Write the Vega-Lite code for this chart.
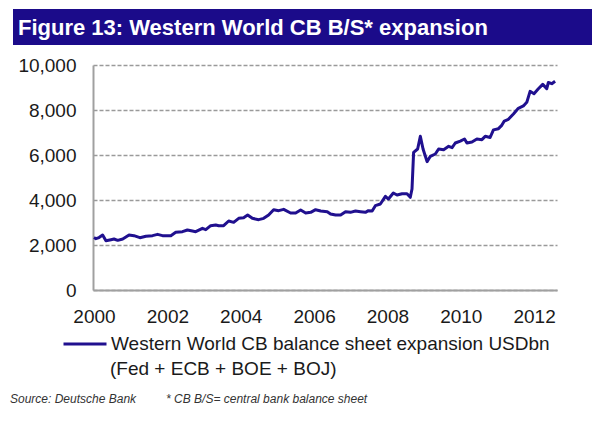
{
  "$schema": "https://vega.github.io/schema/vega-lite/v6.json",
  "autosize": {"type": "pad"},
  "padding": {"left": 9, "top": 9, "right": 12, "bottom": 10},
  "background": "white",
  "config": {
    "font": "Liberation Sans",
    "view": {"stroke": null},
    "axis": {
      "labelFont": "Liberation Sans",
      "labelFontSize": 19,
      "labelColor": "#1a1a1a",
      "domainColor": "#a0a0a0",
      "domainWidth": 2,
      "ticks": false,
      "title": null
    }
  },
  "title": {
    "text": "Source: Deutsche Bank\u00a0\u00a0\u00a0\u00a0\u00a0\u00a0\u00a0\u00a0\u00a0* CB B/S= central bank balance sheet",
    "orient": "bottom",
    "anchor": "start",
    "dx": 1,
    "offset": 15,
    "font": "Liberation Sans",
    "fontSize": 12,
    "fontStyle": "italic",
    "fontWeight": "normal",
    "color": "#333333"
  },
  "spacing": 11,
  "resolve": {"scale": {"color": "independent"}, "legend": {"color": "independent"}},
  "vconcat": [
    {
      "width": 579,
      "height": 36,
      "view": {"fill": "#1b0b8a", "stroke": null},
      "data": {"values": []},
      "mark": "point",
      "title": {
        "text": "Figure 13: Western World CB B/S* expansion",
        "orient": "bottom",
        "anchor": "start",
        "frame": "group",
        "baseline": "alphabetic",
        "offset": -10,
        "dx": 5,
        "font": "Liberation Sans",
        "fontSize": 22,
        "fontWeight": "bold",
        "color": "white"
      }
    },
    {
      "spacing": -24,
      "resolve": {"scale": {"color": "independent"}, "legend": {"color": "independent"}},
      "hconcat": [
        {
          "width": 0,
          "height": 225,
          "data": {"values": []},
          "mark": "point"
        },
        {
          "width": 464,
          "height": 225,
          "title": {
            "text": "(Fed + ECB + BOE + BOJ)",
            "orient": "bottom",
            "anchor": "start",
            "frame": "group",
            "baseline": "alphabetic",
            "dx": 17,
            "offset": 21,
            "font": "Liberation Sans",
            "fontSize": 19,
            "fontWeight": "normal",
            "color": "#1a1a1a"
          },
          "data": {
            "values": [
              {"date": "2000-01-01", "usd_bn": 2330},
              {"date": "2000-01-20", "usd_bn": 2280},
              {"date": "2000-02-20", "usd_bn": 2330},
              {"date": "2000-03-27", "usd_bn": 2444},
              {"date": "2000-04-29", "usd_bn": 2191},
              {"date": "2000-06-18", "usd_bn": 2237},
              {"date": "2000-07-18", "usd_bn": 2267},
              {"date": "2000-08-24", "usd_bn": 2207},
              {"date": "2000-10-13", "usd_bn": 2267},
              {"date": "2000-12-15", "usd_bn": 2444},
              {"date": "2001-02-02", "usd_bn": 2415},
              {"date": "2001-04-02", "usd_bn": 2326},
              {"date": "2001-06-01", "usd_bn": 2385},
              {"date": "2001-08-06", "usd_bn": 2415},
              {"date": "2001-09-25", "usd_bn": 2474},
              {"date": "2001-11-13", "usd_bn": 2415},
              {"date": "2002-02-04", "usd_bn": 2415},
              {"date": "2002-03-25", "usd_bn": 2563},
              {"date": "2002-05-31", "usd_bn": 2593},
              {"date": "2002-07-19", "usd_bn": 2667},
              {"date": "2002-09-07", "usd_bn": 2622},
              {"date": "2002-10-10", "usd_bn": 2593},
              {"date": "2002-12-16", "usd_bn": 2741},
              {"date": "2003-01-18", "usd_bn": 2681},
              {"date": "2003-03-08", "usd_bn": 2859},
              {"date": "2003-04-27", "usd_bn": 2889},
              {"date": "2003-05-27", "usd_bn": 2859},
              {"date": "2003-07-15", "usd_bn": 2859},
              {"date": "2003-09-03", "usd_bn": 3067},
              {"date": "2003-10-23", "usd_bn": 3007},
              {"date": "2003-12-12", "usd_bn": 3185},
              {"date": "2004-01-30", "usd_bn": 3215},
              {"date": "2004-03-10", "usd_bn": 3333},
              {"date": "2004-04-26", "usd_bn": 3185},
              {"date": "2004-06-28", "usd_bn": 3126},
              {"date": "2004-08-17", "usd_bn": 3185},
              {"date": "2004-10-05", "usd_bn": 3333},
              {"date": "2004-11-24", "usd_bn": 3570},
              {"date": "2005-01-13", "usd_bn": 3526},
              {"date": "2005-03-04", "usd_bn": 3585},
              {"date": "2005-05-12", "usd_bn": 3422},
              {"date": "2005-07-01", "usd_bn": 3422},
              {"date": "2005-08-20", "usd_bn": 3555},
              {"date": "2005-10-09", "usd_bn": 3422},
              {"date": "2005-11-28", "usd_bn": 3452},
              {"date": "2006-01-16", "usd_bn": 3570},
              {"date": "2006-03-07", "usd_bn": 3511},
              {"date": "2006-05-12", "usd_bn": 3481},
              {"date": "2006-06-14", "usd_bn": 3380},
              {"date": "2006-08-03", "usd_bn": 3330},
              {"date": "2006-09-22", "usd_bn": 3333},
              {"date": "2006-11-10", "usd_bn": 3481},
              {"date": "2006-12-29", "usd_bn": 3452},
              {"date": "2007-02-17", "usd_bn": 3511},
              {"date": "2007-04-08", "usd_bn": 3481},
              {"date": "2007-05-27", "usd_bn": 3452},
              {"date": "2007-06-26", "usd_bn": 3526},
              {"date": "2007-08-02", "usd_bn": 3511},
              {"date": "2007-09-03", "usd_bn": 3748},
              {"date": "2007-10-23", "usd_bn": 3822},
              {"date": "2007-12-12", "usd_bn": 4163},
              {"date": "2008-01-11", "usd_bn": 4044},
              {"date": "2008-02-29", "usd_bn": 4311},
              {"date": "2008-04-06", "usd_bn": 4222},
              {"date": "2008-05-26", "usd_bn": 4281},
              {"date": "2008-07-14", "usd_bn": 4281},
              {"date": "2008-08-16", "usd_bn": 4119},
              {"date": "2008-09-02", "usd_bn": 4489},
              {"date": "2008-09-18", "usd_bn": 6119},
              {"date": "2008-10-28", "usd_bn": 6267},
              {"date": "2008-11-24", "usd_bn": 6830},
              {"date": "2008-12-21", "usd_bn": 6267},
              {"date": "2009-01-30", "usd_bn": 5704},
              {"date": "2009-03-04", "usd_bn": 5941},
              {"date": "2009-04-22", "usd_bn": 6044},
              {"date": "2009-05-25", "usd_bn": 6267},
              {"date": "2009-07-14", "usd_bn": 6237},
              {"date": "2009-09-02", "usd_bn": 6385},
              {"date": "2009-10-06", "usd_bn": 6326},
              {"date": "2009-11-07", "usd_bn": 6533},
              {"date": "2009-12-27", "usd_bn": 6620},
              {"date": "2010-02-07", "usd_bn": 6711},
              {"date": "2010-03-03", "usd_bn": 6533},
              {"date": "2010-04-22", "usd_bn": 6578},
              {"date": "2010-06-10", "usd_bn": 6711},
              {"date": "2010-07-30", "usd_bn": 6681},
              {"date": "2010-09-01", "usd_bn": 6830},
              {"date": "2010-10-20", "usd_bn": 6778},
              {"date": "2010-11-22", "usd_bn": 7118},
              {"date": "2011-01-11", "usd_bn": 7170},
              {"date": "2011-02-10", "usd_bn": 7304},
              {"date": "2011-03-10", "usd_bn": 7510},
              {"date": "2011-04-20", "usd_bn": 7585},
              {"date": "2011-06-09", "usd_bn": 7822},
              {"date": "2011-07-28", "usd_bn": 8074},
              {"date": "2011-09-16", "usd_bn": 8180},
              {"date": "2011-10-20", "usd_bn": 8341},
              {"date": "2011-11-22", "usd_bn": 8830},
              {"date": "2011-12-31", "usd_bn": 8726},
              {"date": "2012-02-10", "usd_bn": 8930},
              {"date": "2012-03-27", "usd_bn": 9140},
              {"date": "2012-05-06", "usd_bn": 8950},
              {"date": "2012-05-22", "usd_bn": 9222},
              {"date": "2012-06-25", "usd_bn": 9170},
              {"date": "2012-07-28", "usd_bn": 9280}
            ]
          },
          "mark": {"type": "line", "strokeWidth": 3, "strokeJoin": "round", "clip": false},
          "encoding": {
            "x": {
              "field": "date",
              "type": "temporal",
              "scale": {
                "type": "utc",
                "domain": [
                  {"year": 1999, "month": 12, "date": 22, "utc": true},
                  {"year": 2012, "month": 8, "date": 16, "utc": true}
                ]
              },
              "axis": {
                "values": [
                  {"year": 2000, "utc": true},
                  {"year": 2002, "utc": true},
                  {"year": 2004, "utc": true},
                  {"year": 2006, "utc": true},
                  {"year": 2008, "utc": true},
                  {"year": 2010, "utc": true},
                  {"year": 2012, "utc": true}
                ],
                "format": "%Y",
                "labelPadding": 17,
                "labelFlush": false,
                "labelOverlap": false,
                "grid": false
              }
            },
            "y": {
              "field": "usd_bn",
              "type": "quantitative",
              "scale": {"domain": [0, 10000], "nice": false, "zero": true},
              "axis": {
                "values": [0, 2000, 4000, 6000, 8000, 10000],
                "format": ",d",
                "labelPadding": 17,
                "minExtent": 84,
                "grid": true,
                "gridColor": "#9a9a9a",
                "gridWidth": 1.3,
                "gridDash": [4, 2]
              }
            },
            "color": {
              "datum": "Western World CB balance sheet expansion USDbn",
              "scale": {"range": ["#20108f"]},
              "legend": {
                "title": null,
                "orient": "none",
                "legendX": -31,
                "legendY": 256,
                "padding": 0,
                "symbolType": "stroke",
                "symbolSize": 1849,
                "symbolStrokeWidth": 3,
                "labelFont": "Liberation Sans",
                "labelFontSize": 19,
                "labelColor": "#1a1a1a",
                "labelOffset": 3,
                "labelLimit": 0
              }
            }
          }
        }
      ]
    }
  ]
}
